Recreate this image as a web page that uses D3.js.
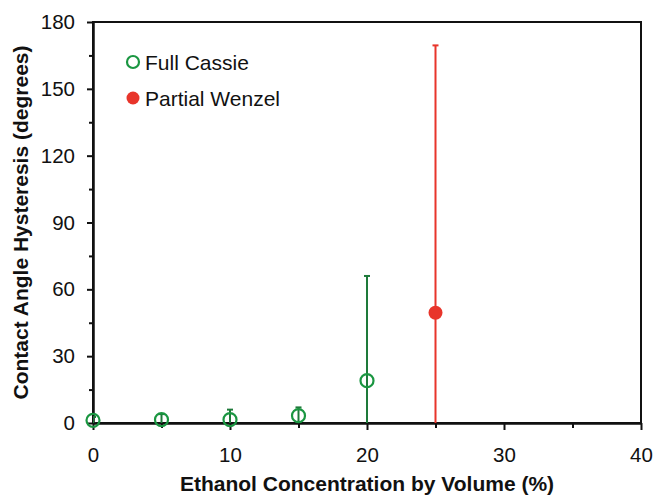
<!DOCTYPE html>
<html>
<head>
<meta charset="utf-8">
<script src="https://cdn.jsdelivr.net/npm/d3@7"></script>
<style>
  body { margin: 0; background: #fff; }
  text { font-family: "Liberation Sans", Arial, sans-serif; }
</style>
</head>
<body>
<div id="content"></div>
<script>
// data
const cassieX = [0, 5, 10, 15, 20];
const cassieY = [1.2, 1.5, 1.5, 3.3, 19];
const cassieErr = [1.5, 2.5, 4.5, 3.7, 47];

const wenzelX = [25];
const wenzelY = [49.5];
const wenzelErr = [120];

const xTicks = [0, 10, 20, 30, 40];
const xMinor = [5, 15, 25, 35];
const yTicks = [0, 30, 60, 90, 120, 150, 180];
const yMinor = [15, 45, 75, 105, 135, 165];

const legendLabels = ["Full Cassie", "Partial Wenzel"];

const width = 655, height = 495;
const margin = { top: 22, right: 14, bottom: 72, left: 93 };

const green = "#1a9641", greenBar = "#1e7a3a", red = "#e8352b";

const svg = d3.select("#content")
    .append("svg")
    .attr("width", width)
    .attr("height", height);

const xScale = d3.scaleLinear()
    .domain([0, 40])
    .range([margin.left, width - margin.right]);

const yScale = d3.scaleLinear()
    .domain([0, 180])
    .range([height - margin.bottom, margin.top]);

// clip for error bars going below zero
svg.append("clipPath")
    .attr("id", "plot-clip")
    .append("rect")
    .attr("x", margin.left)
    .attr("y", margin.top)
    .attr("width", width - margin.left - margin.right)
    .attr("height", height - margin.top - margin.bottom);

// box around plot
svg.append("rect")
    .attr("x", margin.left)
    .attr("y", margin.top)
    .attr("width", width - margin.left - margin.right)
    .attr("height", height - margin.top - margin.bottom)
    .attr("fill", "none")
    .attr("stroke", "#111")
    .attr("stroke-width", 2);

// axes
const xAxis = d3.axisBottom(xScale).tickValues(xTicks).tickSize(7).tickPadding(17).tickSizeOuter(0);
const xAxisMinor = d3.axisBottom(xScale).tickValues(xMinor).tickSize(5).tickFormat("").tickSizeOuter(0);
const yAxis = d3.axisLeft(yScale).tickValues(yTicks).tickSize(6).tickPadding(12).tickSizeOuter(0);
const yAxisMinor = d3.axisLeft(yScale).tickValues(yMinor).tickSize(4).tickFormat("").tickSizeOuter(0);

function styleAxis(g) {
    g.select(".domain").attr("stroke", "#111").attr("stroke-width", 2);
    g.selectAll(".tick line").attr("stroke", "#111").attr("stroke-width", 2);
    g.selectAll(".tick text")
        .attr("font-family", "'Liberation Sans', Arial, sans-serif")
        .attr("font-size", 20.5)
        .attr("fill", "#111");
}

svg.append("g")
    .attr("transform", "translate(0," + (height - margin.bottom) + ")")
    .call(xAxisMinor).call(styleAxis);
svg.append("g")
    .attr("id", "x-axis")
    .attr("transform", "translate(0," + (height - margin.bottom) + ")")
    .call(xAxis).call(styleAxis);

svg.append("g")
    .attr("transform", "translate(" + margin.left + ",0)")
    .call(yAxisMinor).call(styleAxis);
svg.append("g")
    .attr("id", "y-axis")
    .attr("transform", "translate(" + margin.left + ",0)")
    .call(yAxis).call(styleAxis);

// error bars
function drawSeries(xs, ys, errs, barColor, markerColor, filled) {
    const pts = xs.map((x, i) => ({ x: x, y: ys[i], e: errs[i] }));
    const bars = svg.append("g").attr("clip-path", "url(#plot-clip)");

    bars.selectAll("line.bar")
        .data(pts)
        .enter()
        .append("line")
        .attr("x1", d => xScale(d.x))
        .attr("x2", d => xScale(d.x))
        .attr("y1", d => yScale(d.y - d.e))
        .attr("y2", d => yScale(d.y + d.e))
        .attr("stroke", barColor)
        .attr("stroke-width", 2);

    // caps
    bars.selectAll("line.capTop")
        .data(pts)
        .enter()
        .append("line")
        .attr("x1", d => xScale(d.x) - 3)
        .attr("x2", d => xScale(d.x) + 3)
        .attr("y1", d => yScale(d.y + d.e))
        .attr("y2", d => yScale(d.y + d.e))
        .attr("stroke", barColor)
        .attr("stroke-width", 2);

    bars.selectAll("line.capBottom")
        .data(pts)
        .enter()
        .append("line")
        .attr("x1", d => xScale(d.x) - 3)
        .attr("x2", d => xScale(d.x) + 3)
        .attr("y1", d => yScale(d.y - d.e))
        .attr("y2", d => yScale(d.y - d.e))
        .attr("stroke", barColor)
        .attr("stroke-width", 2);

    svg.append("g").selectAll("circle")
        .data(pts)
        .enter()
        .append("circle")
        .attr("cx", d => xScale(d.x))
        .attr("cy", d => yScale(d.y))
        .attr("r", filled ? 7 : 6.5)
        .attr("fill", filled ? markerColor : "none")
        .attr("stroke", markerColor)
        .attr("stroke-width", filled ? 0 : 2.2);
}

drawSeries(cassieX, cassieY, cassieErr, greenBar, green, false);
drawSeries(wenzelX, wenzelY, wenzelErr, red, red, true);

// legend
const legend = svg.append("g");
legend.append("circle")
    .attr("cx", 133).attr("cy", 62).attr("r", 6)
    .attr("fill", "none").attr("stroke", green).attr("stroke-width", 2.2);
legend.append("text")
    .attr("x", 145).attr("y", 70)
    .attr("font-size", 21).attr("fill", "#111")
    .text(legendLabels[0]);
legend.append("circle")
    .attr("cx", 133).attr("cy", 98).attr("r", 6.5)
    .attr("fill", red);
legend.append("text")
    .attr("x", 145).attr("y", 106)
    .attr("font-size", 21).attr("fill", "#111")
    .text(legendLabels[1]);

// axis titles
svg.append("text")
    .attr("x", (margin.left + width - margin.right) / 2)
    .attr("y", 491)
    .attr("text-anchor", "middle")
    .attr("font-size", 21)
    .attr("font-weight", "bold")
    .attr("fill", "#111")
    .text("Ethanol Concentration by Volume (%)");

svg.append("text")
    .attr("transform", "rotate(-90)")
    .attr("x", -(margin.top + height - margin.bottom) / 2)
    .attr("y", 28)
    .attr("text-anchor", "middle")
    .attr("font-size", 21)
    .attr("font-weight", "bold")
    .attr("fill", "#111")
    .text("Contact Angle Hysteresis (degrees)");
</script>
</body>
</html>
